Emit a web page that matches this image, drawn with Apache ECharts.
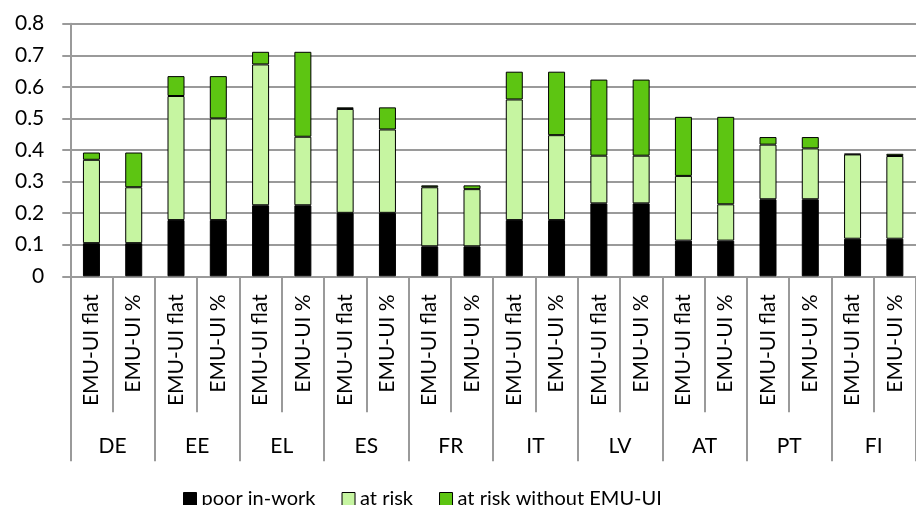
<!DOCTYPE html>
<html>
<head>
<meta charset="utf-8">
<script src="https://cdn.jsdelivr.net/npm/echarts@6/dist/echarts.min.js"></script>
<style>
html,body{margin:0;padding:0;background:#fff;}
#chart{width:916px;height:505px;}
</style>
</head>
<body>
<div id="chart"></div>
<script>
const countries = ['DE','EE','EL','ES','FR','IT','LV','AT','PT','FI'];
const variants = ['EMU-UI flat','EMU-UI %'];
const yTicks = [0,0.1,0.2,0.3,0.4,0.5,0.6,0.7,0.8];
const seriesNames = ['poor in-work','at risk','at risk without EMU-UI'];
const poorInWork = [0.105,0.105,0.178,0.178,0.225,0.225,0.201,0.201,0.095,0.095,0.178,0.178,0.231,0.231,0.113,0.113,0.244,0.244,0.119,0.119];
const atRisk = [0.264,0.177,0.393,0.322,0.446,0.217,0.329,0.264,0.187,0.181,0.382,0.269,0.151,0.151,0.205,0.115,0.173,0.161,0.267,0.262];
const atRiskWithout = [0.023,0.110,0.063,0.134,0.040,0.269,0.005,0.070,0.006,0.012,0.088,0.201,0.241,0.241,0.187,0.277,0.024,0.036,0.002,0.007];

const subCategories = [];
countries.forEach(c => variants.forEach(v => subCategories.push(v)));

const FONT = 'Lato';
const gray = '#9a9a9a';
const colors = ['#000000','#c6f5a1','#5dc512'];

const chart = echarts.init(document.getElementById('chart'));
const mk = (i, data) => ({
  name: seriesNames[i], type: 'bar', stack: 'total', xAxisIndex: 0, barWidth: 17,
  data: data,
  itemStyle: {color: colors[i], borderColor: '#000', borderWidth: 1},
  emphasis: {disabled: true}
});
chart.setOption({
  animation: false,
  textStyle: {fontFamily: FONT},
  legend: {
    data: seriesNames,
    left: 178, top: 484,
    itemWidth: 13, itemHeight: 13, itemGap: 26,
    icon: 'rect',
    textStyle: {fontFamily: FONT, fontSize: 20, color: '#000'},
    itemStyle: {borderColor: '#000', borderWidth: 1}
  },
  grid: {left: 70.3, right: -8.3, top: 23.7, bottom: 228.7, containLabel: false},
  yAxis: {
    type: 'value', min: 0, max: 0.8, interval: 0.1,
    axisLine: {show: true, lineStyle: {color: gray, width: 2}},
    axisTick: {show: true, length: 8, lineStyle: {color: gray, width: 2}},
    splitLine: {show: true, lineStyle: {color: gray, width: 2}},
    axisLabel: {margin: 26, fontSize: 21, color: '#000', fontFamily: FONT,
      formatter: v => yTicks.includes(Math.round(v*10)/10) ? String(Math.round(v*10)/10) : ''}
  },
  xAxis: [
    {
      type: 'category', data: subCategories, position: 'bottom',
      axisLine: {show: true, lineStyle: {color: gray, width: 2}},
      axisTick: {show: true, length: 136, interval: 0, lineStyle: {color: gray, width: 2}},
      axisLabel: {rotate: 90, interval: 0, margin: 18, fontSize: 21, color: '#000', fontFamily: FONT}
    },
    {
      type: 'category', data: countries, position: 'bottom', offset: 0,
      axisLine: {show: false},
      axisTick: {show: true, length: 185, interval: 0, lineStyle: {color: gray, width: 2}},
      axisLabel: {interval: 0, margin: 159, fontSize: 21, color: '#000', fontFamily: FONT}
    }
  ],
  series: [mk(0, poorInWork), mk(1, atRisk), mk(2, atRiskWithout)]
});
</script>
</body>
</html>
